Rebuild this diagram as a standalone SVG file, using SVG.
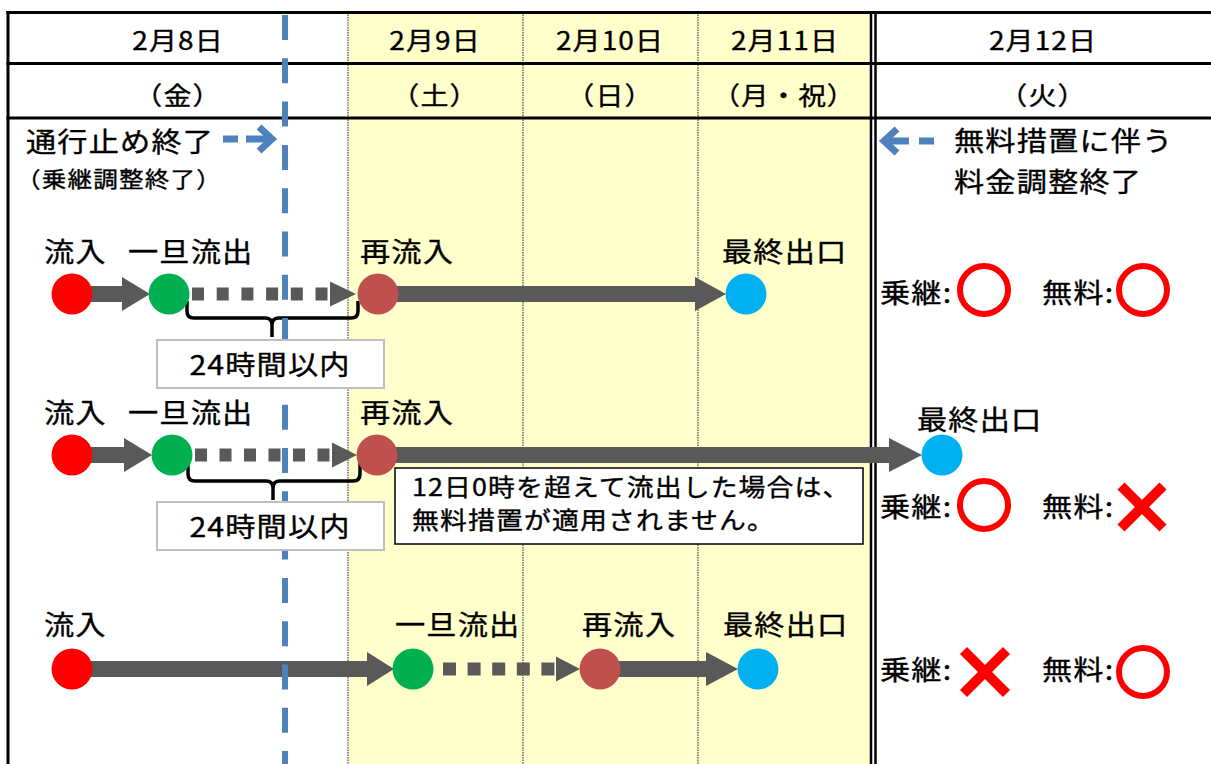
<svg xmlns="http://www.w3.org/2000/svg" width="1211" height="764" viewBox="0 0 1211 764">
<style>
  .t{font-family:"Noto Sans CJK JP","Noto Sans CJK SC",sans-serif;fill:#000;stroke:#000;stroke-width:0.35px;letter-spacing:1px}
  .hd{font-size:25px;text-anchor:middle}
  .lb{font-size:27px}
  .sm{font-size:22px}
  .co{font-size:24px}
  .mid{text-anchor:middle}
  .grid{stroke:#000;stroke-width:3;fill:none}
  .dot{stroke:#6e6e6e;stroke-width:1.5;stroke-dasharray:1.5 1;fill:none}
  .arr{fill:#595959}
  .blue{stroke:#4F81BD;stroke-width:7;fill:none}
  .ring{fill:none;stroke:#FF0000;stroke-width:6}
  .x{stroke:#FF0000;stroke-width:10}
  .br{fill:none;stroke:#000;stroke-width:3.5;stroke-linejoin:round}
  .box{fill:#fff;stroke:#bfbfbf;stroke-width:2}
</style>
<rect x="0" y="0" width="1211" height="764" fill="#fff"/>
<g id="grid">
  <rect x="348" y="12.5" width="522" height="752" fill="#FFFFCC"/>
  <line class="dot" x1="348" y1="12" x2="348" y2="764"/>
  <line class="dot" x1="523" y1="12" x2="523" y2="764"/>
  <line class="dot" x1="698" y1="12" x2="698" y2="764"/>
  <line x1="871" y1="11" x2="871" y2="764" stroke="#000" stroke-width="2.5"/>
  <line x1="875.5" y1="11" x2="875.5" y2="764" stroke="#000" stroke-width="2.5"/>
  <line class="grid" x1="6.5" y1="12.5" x2="1211" y2="12.5"/>
  <line class="grid" x1="8" y1="11" x2="8" y2="764"/>
  <line class="grid" x1="6.5" y1="63.5" x2="1211" y2="63.5"/>
  <line class="grid" x1="6.5" y1="118" x2="1211" y2="118"/>
</g>
<g id="header">
  <text class="t hd" transform="translate(178 50) scale(1.12 1)">2月8日</text>
  <text class="t hd" transform="translate(435 50) scale(1.12 1)">2月9日</text>
  <text class="t hd" transform="translate(610 50) scale(1.12 1)">2月10日</text>
  <text class="t hd" transform="translate(785 50) scale(1.12 1)">2月11日</text>
  <text class="t hd" transform="translate(1043 50) scale(1.12 1)">2月12日</text>
  <text class="t hd" transform="translate(178 105) scale(1.12 1)">（金）</text>
  <text class="t hd" transform="translate(435 105) scale(1.12 1)">（土）</text>
  <text class="t hd" transform="translate(610 105) scale(1.12 1)">（日）</text>
  <text class="t hd" transform="translate(784 105) scale(1.1 1)">（月・祝）</text>
  <text class="t hd" transform="translate(1043 105) scale(1.12 1)">（火）</text>
</g>
<g id="notes">
  <text class="t lb" transform="translate(26 152) scale(1.12 1)">通行止め終了</text>
  <text class="t sm" transform="translate(16 187) scale(1.12 1)">（乗継調整終了）</text>
  <text class="t lb" transform="translate(954 151) scale(1.12 1)">無料措置に伴う</text>
  <text class="t lb" transform="translate(954 192) scale(1.12 1)">料金調整終了</text>
</g>
<g id="connectors">
  <polygon class="arr" points="72,286 122,286 122,277 150,294 122,311 122,302 72,302"/>
  <g class="arr">
    <rect x="192" y="287.5" width="12" height="13"/><rect x="216.7" y="287.5" width="12" height="13"/><rect x="241.4" y="287.5" width="12" height="13"/><rect x="266.1" y="287.5" width="12" height="13"/><rect x="290.8" y="287.5" width="12" height="13"/><rect x="315.5" y="287.5" width="12" height="13"/>
    <polygon points="330,281.5 356,294 330,306.5"/>
  </g>
  <polygon class="arr" points="378,286 695,286 695,277 726,294 695,311 695,302 378,302"/>

  <polygon class="arr" points="72,447 124,447 124,438 152,455 124,472 124,463 72,463"/>
  <g class="arr">
    <rect x="195" y="448.5" width="12" height="13"/><rect x="219.5" y="448.5" width="12" height="13"/><rect x="244" y="448.5" width="12" height="13"/><rect x="268.5" y="448.5" width="12" height="13"/><rect x="293" y="448.5" width="12" height="13"/><rect x="317.5" y="448.5" width="12" height="13"/>
    <polygon points="332,442.5 357,455 332,467.5"/>
  </g>
  <polygon class="arr" points="377,447 889,447 889,438 922,455 889,472 889,463 377,463"/>

  <polygon class="arr" points="72,661 367,661 367,652 394,669 367,686 367,677 72,677"/>
  <g class="arr">
    <rect x="443" y="662.5" width="13" height="13"/><rect x="467.6" y="662.5" width="13" height="13"/><rect x="492.2" y="662.5" width="13" height="13"/><rect x="516.8" y="662.5" width="13" height="13"/><rect x="541.4" y="662.5" width="13" height="13"/>
    <polygon points="556,656.5 580,669 556,681.5"/>
  </g>
  <polygon class="arr" points="600,661 706,661 706,652 738,669 706,686 706,677 600,677"/>

  <path class="br" d="M187,301 V311 Q187,318 194,318 H265 Q272,318 272,325 V337 M272,325 Q272,318 279,318 H351 Q358,318 358,311 V301"/>
  <path class="br" d="M188,463 V474 Q188,481 195,481 H266 Q273,481 273,488 V500 M273,488 Q273,481 280,481 H353 Q360,481 360,474 V463"/>
</g>
<g id="cutoff-line">
  <line x1="285" y1="15" x2="285" y2="764" stroke="#4F81BD" stroke-width="6" stroke-dasharray="25 18.3"/>
  <line class="blue" x1="223" y1="139" x2="238" y2="139"/>
  <line class="blue" x1="246" y1="139" x2="268" y2="139"/>
  <polyline class="blue" points="259,127 272,139 259,151" stroke-linejoin="miter"/>
  <line class="blue" x1="919" y1="141" x2="934" y2="141"/>
  <line class="blue" x1="886" y1="141" x2="909" y2="141"/>
  <polyline class="blue" points="897,129 884,141 897,153" stroke-linejoin="miter"/>
</g>
<g id="span1">
  <rect class="box" x="157" y="340" width="227" height="48"/>
  <text class="t lb mid" transform="translate(270 375) scale(1.12 1)">24時間以内</text>
</g>
<g id="span2">
  <rect class="box" x="157" y="502" width="227" height="48"/>
  <text class="t lb mid" transform="translate(270 537) scale(1.12 1)">24時間以内</text>
</g>
<g id="callout">
  <rect x="395" y="468" width="468" height="76" fill="#fff" stroke="#000" stroke-width="1.5"/>
  <text class="t co" transform="translate(412 496) scale(1.12 1)">12日0時を超えて流出した場合は、</text>
  <text class="t co" transform="translate(412 529) scale(1.12 1)">無料措置が適用されません。</text>
</g>
<g id="row1-entry"><circle cx="72" cy="294" r="20.5" fill="#FF0000"/><text class="t lb" transform="translate(44 262) scale(1.12 1)">流入</text></g>
<g id="row1-exit"><circle cx="169" cy="294" r="20.5" fill="#00B050"/><text class="t lb" transform="translate(128 262) scale(1.12 1)">一旦流出</text></g>
<g id="row1-reentry"><circle cx="378" cy="294" r="20.5" fill="#C0504D"/><text class="t lb" transform="translate(360 262) scale(1.12 1)">再流入</text></g>
<g id="row1-final"><circle cx="746" cy="294" r="20.5" fill="#00B0F0"/><text class="t lb" transform="translate(722 262) scale(1.12 1)">最終出口</text></g>

<g id="row2-entry"><circle cx="72" cy="455" r="20.5" fill="#FF0000"/><text class="t lb" transform="translate(44 423) scale(1.12 1)">流入</text></g>
<g id="row2-exit"><circle cx="172" cy="455" r="20.5" fill="#00B050"/><text class="t lb" transform="translate(128 423) scale(1.12 1)">一旦流出</text></g>
<g id="row2-reentry"><circle cx="377" cy="455" r="20.5" fill="#C0504D"/><text class="t lb" transform="translate(360 423) scale(1.12 1)">再流入</text></g>
<g id="row2-final"><circle cx="942" cy="455" r="20.5" fill="#00B0F0"/><text class="t lb" transform="translate(917 430) scale(1.12 1)">最終出口</text></g>

<g id="row3-entry"><circle cx="72" cy="669" r="20.5" fill="#FF0000"/><text class="t lb" transform="translate(44 635) scale(1.12 1)">流入</text></g>
<g id="row3-exit"><circle cx="413" cy="669" r="20.5" fill="#00B050"/><text class="t lb" transform="translate(395 635) scale(1.12 1)">一旦流出</text></g>
<g id="row3-reentry"><circle cx="600" cy="669" r="20.5" fill="#C0504D"/><text class="t lb" transform="translate(582 635) scale(1.12 1)">再流入</text></g>
<g id="row3-final"><circle cx="758" cy="669" r="20.5" fill="#00B0F0"/><text class="t lb" transform="translate(723 635) scale(1.12 1)">最終出口</text></g>

<g id="result1">
  <text class="t lb" transform="translate(880 303) scale(1.12 1)">乗継:</text>
  <circle class="ring" cx="984" cy="290" r="24"/>
  <text class="t lb" transform="translate(1042 303) scale(1.12 1)">無料:</text>
  <circle class="ring" cx="1143" cy="290" r="24"/>
</g>
<g id="result2">
  <text class="t lb" transform="translate(880 517) scale(1.12 1)">乗継:</text>
  <circle class="ring" cx="984" cy="505" r="24"/>
  <text class="t lb" transform="translate(1042 517) scale(1.12 1)">無料:</text>
  <line class="x" x1="1121" y1="486" x2="1163" y2="528"/>
  <line class="x" x1="1163" y1="486" x2="1121" y2="528"/>
</g>
<g id="result3">
  <text class="t lb" transform="translate(880 680) scale(1.12 1)">乗継:</text>
  <line class="x" x1="963.5" y1="650.5" x2="1006.5" y2="693.5"/>
  <line class="x" x1="1006.5" y1="650.5" x2="963.5" y2="693.5"/>
  <text class="t lb" transform="translate(1042 680) scale(1.12 1)">無料:</text>
  <circle class="ring" cx="1143" cy="672" r="24"/>
</g>
</svg>
